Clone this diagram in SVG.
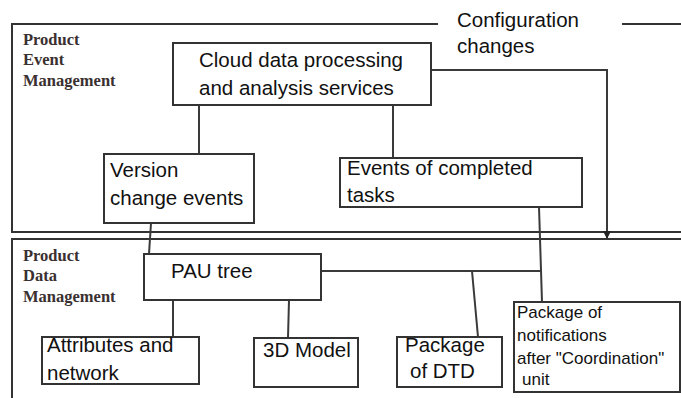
<svg xmlns="http://www.w3.org/2000/svg" width="681" height="398" viewBox="0 0 681 398">
<style>
.frame{fill:none;stroke:#333;stroke-width:2}
.box{fill:#fff;stroke:#333;stroke-width:2}
.t{font-family:"Liberation Sans",Arial,sans-serif;font-size:20.5px;fill:#111}
.s{font-family:"Liberation Sans",Arial,sans-serif;font-size:17px;fill:#111}
.lbl{font-family:"Liberation Serif","Times New Roman",serif;font-size:16.5px;font-weight:bold;fill:#3a3030}
.c{fill:none;stroke:#3a3a3a;stroke-width:2}
</style>
<defs>
<marker id="arr" viewBox="0 0 10 10" refX="10" refY="5" markerWidth="4" markerHeight="4" orient="auto" markerUnits="strokeWidth">
<path d="M0,0 L10,5 L0,10 z" fill="#222"/>
</marker>
</defs>
<g id="product-event-management">
<path class="frame" d="M438,24 H12 V232 H681"/>
<path class="frame" d="M622,24 H681"/>
<text class="lbl" x="23" y="45">Product</text>
<text class="lbl" x="23" y="65">Event</text>
<text class="lbl" x="23" y="86">Management</text>
</g>
<g id="product-data-management">
<path class="frame" d="M681,239 H12 V398"/>
<text class="lbl" x="23" y="261">Product</text>
<text class="lbl" x="23" y="281">Data</text>
<text class="lbl" x="23" y="302">Management</text>
</g>
<g id="configuration-changes">
<text class="t" x="457" y="27">Configuration</text>
<text class="t" x="457" y="53">changes</text>
</g>
<g id="connectors">
<path class="c" d="M199,105 V154"/>
<path class="c" d="M393,105 V158"/>
<path class="c" d="M431,70 H607 V239" marker-end="url(#arr)"/>
<path class="c" d="M151,223 L149,254"/>
<path class="c" d="M539,207 L542,302"/>
<path class="c" d="M321,271 H542"/>
<path class="c" d="M472,271 L478,337"/>
<path class="c" d="M173,300 V337"/>
<path class="c" d="M289,300 L288,338"/>
</g>
<g id="cloud">
<rect class="box" x="173" y="43" width="258" height="62"/>
<text class="t" x="199" y="67">Cloud data processing</text>
<text class="t" x="199" y="95">and analysis services</text>
</g>
<g id="version">
<rect class="box" x="104" y="154" width="150" height="69"/>
<text class="t" x="110" y="177">Version</text>
<text class="t" x="110" y="205">change events</text>
</g>
<g id="events">
<rect class="box" x="340" y="158" width="242" height="49"/>
<text class="t" x="347" y="175">Events of completed</text>
<text class="t" x="347" y="202">tasks</text>
</g>
<g id="pau">
<rect class="box" x="144" y="254" width="177" height="46"/>
<text class="t" x="171" y="278">PAU tree</text>
</g>
<g id="attributes">
<rect class="box" x="42" y="337" width="157" height="47"/>
<text class="t" x="47" y="352">Attributes and</text>
<text class="t" x="47" y="380">network</text>
</g>
<g id="model3d">
<rect class="box" x="254" y="338" width="104" height="49"/>
<text class="t" x="263" y="357">3D Model</text>
</g>
<g id="dtd">
<rect class="box" x="397" y="337" width="105" height="50"/>
<text class="t" x="405" y="352">Package</text>
<text class="t" x="410" y="378">of DTD</text>
</g>
<g id="notifications">
<rect class="box" x="514" y="302" width="166" height="90"/>
<text class="s" x="517" y="318">Package of</text>
<text class="s" x="517" y="341">notifications</text>
<text class="s" x="517" y="364">after "Coordination"</text>
<text class="s" x="522" y="385">unit</text>
</g>
</svg>
